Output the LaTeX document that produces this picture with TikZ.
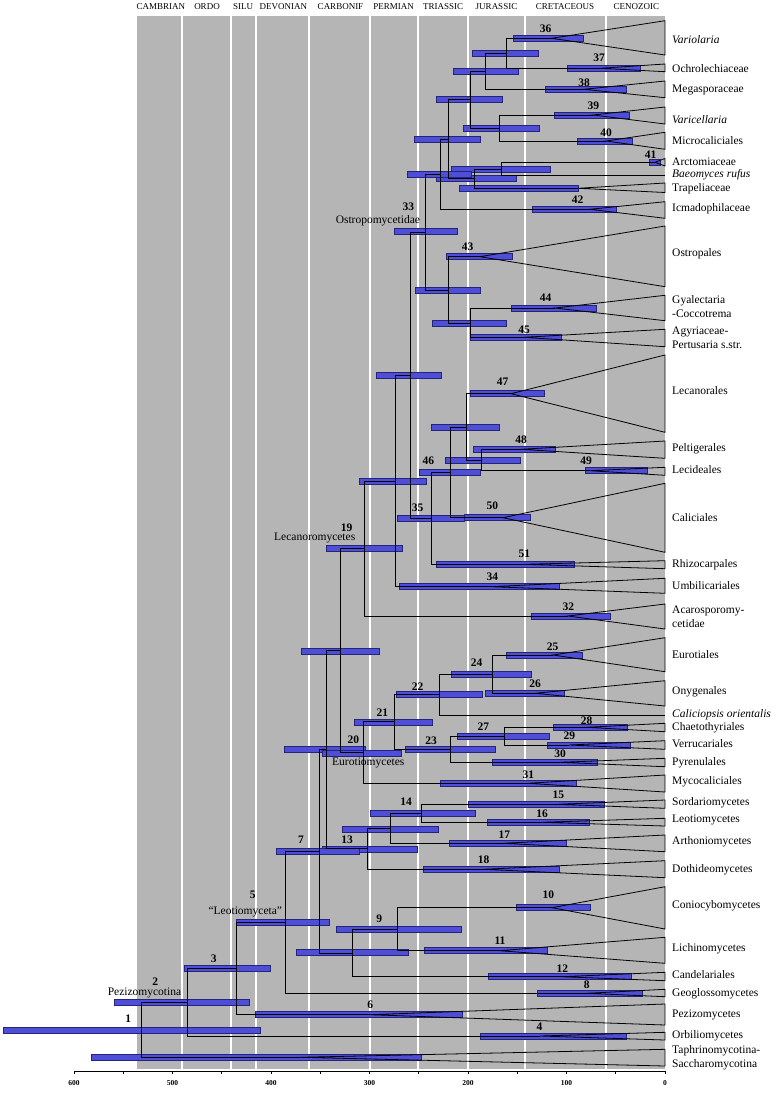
\documentclass[tikz,border=0pt]{standalone}
\usepackage{fontspec}
\setmainfont{Liberation Serif}
\definecolor{periodgray}{RGB}{181,181,181}
\definecolor{hpdfill}{RGB}{78,78,214}
\definecolor{hpdedge}{RGB}{36,36,120}
\tikzset{
  hpd/.style={fill=hpdfill,draw=hpdedge,line width=0.6pt},
  branch/.style={line width=0.9pt},
  clade/.style={line width=0.8pt,line join=miter},
  num/.style={font=\fontsize{11.5}{12}\selectfont\bfseries,inner sep=0pt},
  tip/.style={anchor=west,inner sep=0pt,align=left,
    font=\fontsize{11.5}{14}\selectfont},
  grp/.style={inner sep=0pt,font=\fontsize{11.5}{13}\selectfont},
  era/.style={inner sep=0pt,font=\fontsize{9}{10}\selectfont},
  axl/.style={inner sep=0pt,font=\fontsize{7.5}{8}\selectfont\bfseries}
}
\begin{document}
\begin{tikzpicture}[x=1pt,y=-1pt]
  \useasboundingbox (0,0) rectangle (777,1095);
  % geological periods
  \fill[periodgray] (137,15.7) rectangle (665,1069);
  \foreach \b in {182,231,256,309,370,418,468,525,606}
    \fill[white] (\b-1,15.7) rectangle (\b+1,1069);
  \foreach \x/\t in {160.8/CAMBRIAN,207/ORDO,243/SILU,283.3/DEVONIAN,
      340.5/CARBONIF,393.5/PERMIAN,443.2/TRIASSIC,496.5/JURASSIC,
      565/CRETACEOUS,636.3/CENOZOIC}
    \node[era] (e\t) at (\x,6.7) {\t};
  % time axis
  \draw[line width=0.6pt] (74,1071) -- (665,1071);
  \foreach \m in {0,50,...,600}
    \draw[line width=0.6pt] ({665-0.985*\m},1071) -- ++(0,3);
  \foreach \m in {0,100,...,600}
    \node[axl] (a\m) at ({665-0.985*\m},1083) {\m};

  % crown nodes of the collapsed clades
  \coordinate (c36) at (551.7,38.3);   \coordinate (c37) at (600,68.3);
  \coordinate (c38) at (584,89.3);     \coordinate (c39) at (593,115);
  \coordinate (c40) at (606,141);      \coordinate (c41) at (655,162.3);
  \coordinate (tBae) at (665,175.7);   \coordinate (cTrap) at (578,188.3);
  \coordinate (c42) at (590,209.3);    \coordinate (c43) at (480,256.7);
  \coordinate (c44) at (555,308);      \coordinate (c45) at (524,337.3);
  \coordinate (c47) at (511,393.7);    \coordinate (c48) at (521,449.3);
  \coordinate (c49) at (590,470.7);    \coordinate (c50) at (503,517.7);
  \coordinate (c51) at (524,564.3);    \coordinate (c34) at (492,586.7);
  \coordinate (c32) at (568,616);      \coordinate (c25) at (553,655);
  \coordinate (c26) at (535,693.3);    \coordinate (tCal) at (665,715);
  \coordinate (c28) at (587,727.3);    \coordinate (c29) at (569,745);
  \coordinate (c30) at (560,762.3);    \coordinate (c31) at (528,783.3);
  \coordinate (c15) at (558,804.3);    \coordinate (c16) at (542,822.3);
  \coordinate (c17) at (504,843.3);    \coordinate (c18) at (484,869.3);
  \coordinate (c10) at (552,907.7);    \coordinate (c11) at (500,950.7);
  \coordinate (c12) at (562,976.7);    \coordinate (c8) at (587,993.3);
  \coordinate (c6) at (370,1014.7);    \coordinate (c4) at (540,1036);
  \coordinate (cTS) at (300,1057.3);
  % internal nodes
  \coordinate (nA) at (506,53.3);      \coordinate (nB) at (485.7,71.3);
  \coordinate (nD) at (499.3,128);     \coordinate (nC) at (470,99.8);
  \coordinate (nF) at (501,169);       \coordinate (nG) at (474.3,178.7);
  \coordinate (nE) at (448.3,139.3);   \coordinate (nH) at (440,174.3);
  \coordinate (nK) at (470,323);       \coordinate (nJ) at (448.3,290);
  \coordinate (n33) at (425.7,232);    \coordinate (nLa) at (481.3,460);
  \coordinate (nLb) at (466,427);      \coordinate (n46) at (450,472.3);
  \coordinate (n35) at (431,518.3);    \coordinate (nM) at (410,375.3);
  \coordinate (nL) at (395,481);       \coordinate (n19) at (364.3,548.5);
  \coordinate (n24) at (492.3,674.3);  \coordinate (n22) at (439.3,694.7);
  \coordinate (n27) at (504.3,736.2);  \coordinate (n23) at (450,749.2);
  \coordinate (n21) at (394.3,721.8);  \coordinate (n20) at (363.3,752.6);
  \coordinate (nN) at (340.7,650.5);   \coordinate (n14) at (421.7,813.3);
  \coordinate (nO) at (390.3,828.3);   \coordinate (n13) at (367.7,848.8);
  \coordinate (nP) at (326,749.7);     \coordinate (n9) at (397.7,929.2);
  \coordinate (nS) at (352.3,953);     \coordinate (n7) at (319.3,851.3);
  \coordinate (n5) at (285.7,922.3);   \coordinate (n3) at (236.7,968.5);
  \coordinate (n2) at (187.3,1002.3);  \coordinate (n1) at (141.7,1029.8);

  % 95% HPD bars
  \foreach \y/\a/\b in {38.3/513.7/583.7, 68.3/567.7/640.3, 89.3/545.7/626.7,
      115/554/629.3, 141/577.3/632.3, 162.3/649.3/660, 188.3/459.3/578.3,
      209.3/532.3/616.7, 53.3/472.7/538.7, 71.3/453.3/518.3, 128.3/463.3/539.3,
      99.3/436.7/502.7, 169/451/550.7, 178.3/436/516.7, 139.3/414.3/480,
      174.3/407.3/471.7, 231.7/394.3/457.7, 290/415/480, 256.7/446.7/512.7,
      323.3/432.3/506.7, 308/511.7/596.7, 337.3/470/561, 375.3/376.7/441,
      393.7/470.3/544.3, 427/431.7/499.3, 449.3/473.3/555.3, 460/445/520,
      472.3/419.3/480, 470.7/585/647.3, 481/359.3/426.7, 518.7/397.7/464.3,
      517.7/464.3/530, 548.3/326/402.3, 564.3/436.7/574, 586.7/399/559.3,
      616/531/610, 651/301.7/379.3, 655/506.7/582.7, 674.3/451.7/531,
      693.3/485/564, 694.3/396.7/482.3, 722.3/354.3/432.7, 727.3/553.3/627.7,
      736/457.7/549, 745/547.7/630, 749.3/284/365, 749.3/405/495,
      753.3/322.7/401, 762.3/492.3/597.7, 783.3/440.7/576.7, 804.3/468.3/604.3,
      813.3/370/475.7, 822.3/487.3/589.3, 829/342.3/438.3, 843.3/449/566.7,
      849/322.4/417, 851/276.5/359.2, 869.3/423.3/559.3, 907.7/516/590,
      922.3/236.7/329.3, 929.3/336.7/461, 950.7/424/547.3, 952.7/296.7/408.3,
      968.7/184.3/270.7, 976.7/488.3/631, 993.3/537.3/642.3, 1002.7/114.3/249.3,
      1014.7/255/462, 1030/3/260, 1036/480/626, 1057.3/91.6/420.8}
    \draw[hpd] (\a,\y-3) rectangle (\b,\y+3);

  % branches
  \foreach \p/\c in {nA/c36,nA/c37,nB/nA,nB/c38,nD/c39,nD/c40,nC/nB,nC/nD,
      nF/c41,nF/tBae,nG/nF,nG/cTrap,nE/nC,nE/nG,nH/nE,nH/c42,nK/c44,nK/c45,
      nJ/c43,nJ/nK,n33/nH,n33/nJ,nLa/c48,nLa/c49,nLb/c47,nLb/nLa,n46/nLb,
      n46/c50,n35/n46,n35/c51,nM/n33,nM/n35,nL/nM,nL/c34,n19/nL,n19/c32,
      n24/c25,n24/c26,n22/n24,n22/tCal,n27/c28,n27/c29,n23/n27,n23/c30,
      n21/n22,n21/n23,n20/n21,n20/c31,nN/n19,nN/n20,n14/c15,n14/c16,
      nO/n14,nO/c17,n13/nO,n13/c18,nP/nN,nP/n13,n9/c10,n9/c11,nS/n9,
      nS/c12,n7/nP,n7/nS,n5/n7,n5/c8,n3/n5,n3/c6,n2/n3,n2/c4,n1/n2,n1/cTS}
    \draw[branch] (\p) |- (\c);

  % collapsed clades
  \foreach \c/\t/\u in {c36/20.7/55, c37/64/71.7, c38/81/97.7, c39/107/124,
      c40/132.3/149.3, c41/158.5/166, cTrap/183/192.5, c42/201.7/218.3,
      c43/226/286.7, c44/295.3/320.7, c45/329.3/346.7, c47/355/432.3,
      c48/441/458.3, c49/467.3/475.3, c50/483.3/552.3, c51/560.7/568.7,
      c34/578.3/593.3, c32/604/629, c25/637.7/671.7, c26/680.7/706,
      c28/723.3/731.7, c29/740.7/749.3, c30/758.3/766.7, c31/775/792,
      c15/800/808.3, c16/818.3/826, c17/835/851.7, c18/860.7/877.7,
      c10/886.7/929, c11/937.3/963.3, c12/972.3/980.7, c8/989.3/996.7,
      c6/1004/1025, c4/1032.3/1040, cTS/1049.3/1066}
    \draw[clade] (\c) -- (665,\t) -- (665,\u) -- cycle;

  % node numbers
  \foreach \n/\x/\y in {36/545.7/28.3, 37/599/57.3, 38/584/82.7, 39/593.3/106,
      40/606/132.3, 41/650.7/154.3, 42/577.7/200, 33/408.3/206.7,
      43/467.7/246.7, 44/545.7/297.3, 45/524/329.3, 47/502.7/381.7,
      48/521/439.3, 46/428.3/461, 49/586/461, 35/417.7/507.7, 50/492.3/506,
      19/346.7/527.3, 51/524.3/553.3, 34/492.3/576.7, 32/568.3/606.7,
      25/552.7/646.7, 24/476.7/662.7, 26/535/684, 22/417.7/686.7,
      21/382.3/712.7, 27/483.3/726.7, 28/586.7/720.7, 29/569.3/736,
      20/353.3/740, 23/431/740.7, 30/560/753.3, 31/528.3/775, 15/558.3/795,
      14/406/801.7, 16/542/813.3, 17/504.3/834.3, 7/301/840, 13/347/840,
      18/483.7/859.3, 5/252.7/895, 10/548.3/895, 9/379.3/918.3, 11/500/941,
      3/213.7/958.3, 12/562.3/968.3, 2/155.3/981.7, 8/586.7/985,
      6/370.3/1005, 1/128.3/1019, 4/539.6/1026.7}
    \node[num] (l\n) at (\x,\y) {\n};

  % group names
  \node[grp] (gOstro) at (377.9,221) {Ostropomycetidae};
  \node[grp] (gLecan) at (314.7,538.3) {Lecanoromycetes};
  \node[grp] (gEurot) at (368.3,763.3) {Eurotiomycetes};
  \node[grp] (gLeot) at (245.3,911.7) {``Leotiomyceta''};
  \node[grp] (gPeziz) at (144.5,993.3) {Pezizomycotina};

  % tip names
  \node[tip] (tVariolaria) at (672,39.3) {\textit{Variolaria}};
  \node[tip] (tOchro) at (672,68.3) {Ochrolechiaceae};
  \node[tip] (tMegas) at (672,90) {Megasporaceae};
  \node[tip] (tVaric) at (672,120) {\textit{Varicellaria}};
  \node[tip] (tMicro) at (672,141) {Microcaliciales};
  \node[tip] (tArcto) at (672,161.7) {Arctomiaceae};
  \node[tip] (tBaeo) at (672,174.5) {\textit{Baeomyces rufus}};
  \node[tip] (tTrap) at (672,188.3) {Trapeliaceae};
  \node[tip] (tIcma) at (672,208.3) {Icmadophilaceae};
  \node[tip] (tOstr) at (672,253.3) {Ostropales};
  \node[tip] (tGyal) at (672,306.3) {Gyalectaria\\-Coccotrema};
  \node[tip] (tAgyr) at (672,338) {Agyriaceae-\\Pertusaria s.str.};
  \node[tip] (tLecan) at (672,390.7) {Lecanorales};
  \node[tip] (tPelt) at (672,449) {Peltigerales};
  \node[tip] (tLecid) at (672,470) {Lecideales};
  \node[tip] (tCalic) at (672,517.3) {Caliciales};
  \node[tip] (tRhizo) at (672,565) {Rhizocarpales};
  \node[tip] (tUmbil) at (672,585.7) {Umbilicariales};
  \node[tip] (tAcaro) at (672,617) {Acarosporomy-\\cetidae};
  \node[tip] (tEurot) at (672,654.3) {Eurotiales};
  \node[tip] (tOnyg) at (672,691.7) {Onygenales};
  \node[tip] (tCalor) at (672,715) {\textit{Caliciopsis orientalis}};
  \node[tip] (tChaet) at (672,727.3) {Chaetothyriales};
  \node[tip] (tVerru) at (672,744) {Verrucariales};
  \node[tip] (tPyren) at (672,762.3) {Pyrenulales};
  \node[tip] (tMyco) at (672,781.7) {Mycocaliciales};
  \node[tip] (tSord) at (672,802.3) {Sordariomycetes};
  \node[tip] (tLeot) at (672,820) {Leotiomycetes};
  \node[tip] (tArth) at (672,841.7) {Arthoniomycetes};
  \node[tip] (tDoth) at (672,869.3) {Dothideomycetes};
  \node[tip] (tConio) at (672,906) {Coniocybomycetes};
  \node[tip] (tLichi) at (672,949) {Lichinomycetes};
  \node[tip] (tCande) at (672,975) {Candelariales};
  \node[tip] (tGeog) at (672,993.3) {Geoglossomycetes};
  \node[tip] (tPeziz) at (672,1015) {Pezizomycetes};
  \node[tip] (tOrbil) at (672,1036) {Orbiliomycetes};
  \node[tip] (tTaph) at (672,1058) {Taphrinomycotina-\\Saccharomycotina};
\end{tikzpicture}
\end{document}
